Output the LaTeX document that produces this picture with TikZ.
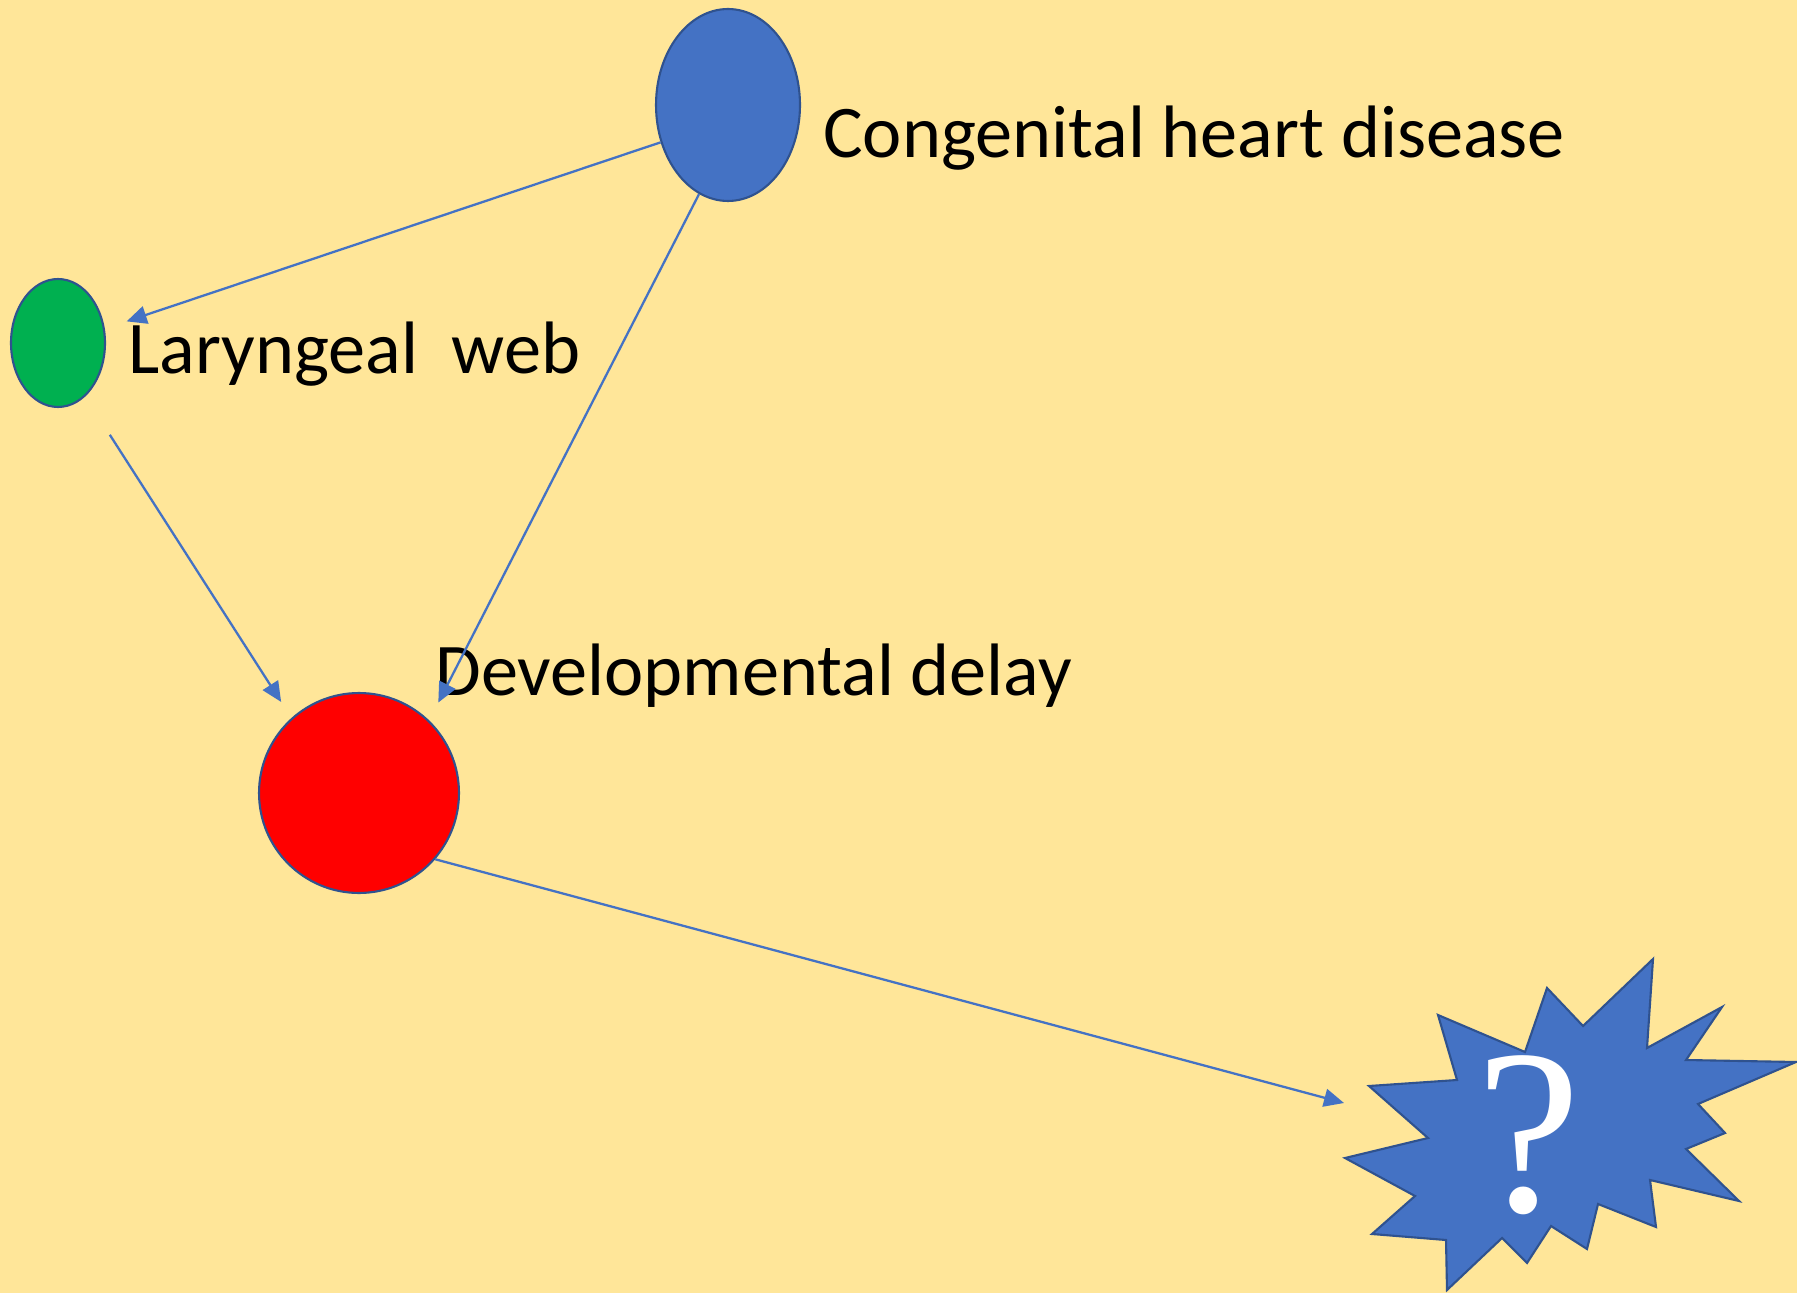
\documentclass[tikz,border=0pt]{standalone}
\usepackage{fontspec}
\setmainfont{Carlito}
\newfontfamily\qmfont{Liberation Serif}
\usetikzlibrary{shapes.geometric,arrows.meta}
\definecolor{bg}{RGB}{255,230,153}
\definecolor{accent}{RGB}{68,114,196}
\definecolor{rim}{RGB}{47,82,143}
\definecolor{leaf}{RGB}{0,176,80}
\tikzset{
	blob/.style={ellipse, draw=rim, line width=1.2pt, inner sep=0pt},
	lbl/.style={anchor=base west, inner sep=0pt, font=\fontsize{42.3}{50}\selectfont},
	conn/.style={draw=accent, line width=1.3pt, -{Triangle[length=4mm,width=3.6mm]}}
}
\begin{document}
\begin{tikzpicture}[x=0.02cm,y=-0.02cm]
				\fill[bg] (0,0) rectangle (1797,1293);
				\useasboundingbox (0,0) rectangle (1797,1293);
				\coordinate (c0) at (728,105);
				\coordinate (c1) at (58,343);
				\coordinate (c2) at (359,793);
				\coordinate (sttip) at (1344,1103);
				%
				\node[blob, fill=accent, minimum width=2.88cm, minimum height=3.84cm] (chd) at (c0) {};
				\node[blob, fill=leaf, minimum width=1.88cm, minimum height=2.56cm] (lw) at (c1) {};
				\node[blob, fill=red, minimum width=4cm, minimum height=4cm] (dd) at (c2) {};
				%
				\node[lbl] (chdlbl) at (823,158) {Congenital heart disease};
				\node[lbl] (lwlbl) at (128,374) {Laryngeal\ \ web};
				\node[lbl] (ddlbl) at (435,695) {Developmental delay};
				%
				\filldraw[fill=accent, draw=rim, line width=1.2pt, line join=miter]
					(1438,1015) -- (1457,1080) -- (1369,1086) -- (1428,1138) -- (1345,1158)
					-- (1415,1196) -- (1372,1234) -- (1446,1240) -- (1447,1290) -- (1502,1238)
					-- (1527,1263) -- (1551,1226) -- (1587,1249) -- (1598,1204) -- (1656,1227)
					-- (1650,1180) -- (1739,1201) -- (1686,1149) -- (1725,1133) -- (1698,1104)
					-- (1796,1062) -- (1686,1060) -- (1722,1007) -- (1647,1048) -- (1653,959)
					-- (1583,1026) -- (1547,988) -- (1525,1052) -- cycle;
				\node[text=white, inner sep=0pt, anchor=base, font=\qmfont\fontsize{134}{134}\selectfont] (qm) at (1529,1211) {?};
				%
				\draw[conn, shorten >=0.46cm] (chd.209) -- (lw.17);
				\draw[conn, shorten >=0.4cm] (chd.252) -- (dd.46);
				\draw[conn, shorten <=0.91cm, shorten >=0.38cm] (lw.297) -- (dd.132);
				\draw[conn] (dd.-41) -- (sttip);
			\end{tikzpicture}
\end{document}
